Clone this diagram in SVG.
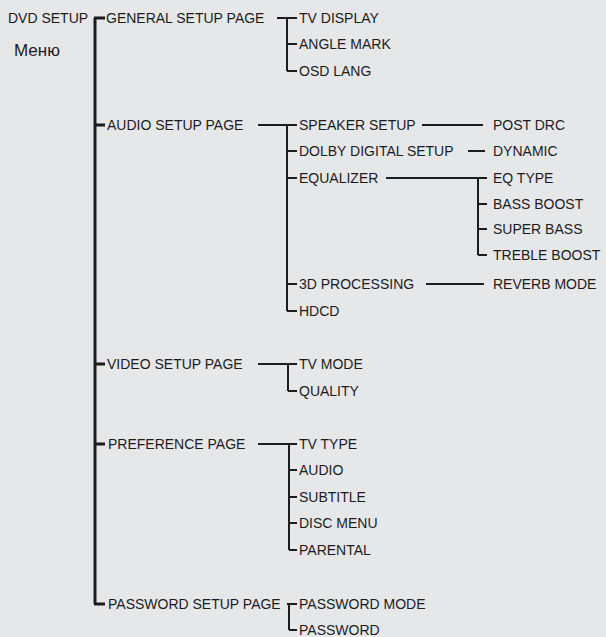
<svg xmlns="http://www.w3.org/2000/svg" width="606" height="637" viewBox="0 0 606 637">
<style>
text{font-family:"Liberation Sans",Arial,sans-serif;font-size:14px;fill:#1c1c1c}
.ru{font-size:17px}
.c{stroke:#1c1c1c;stroke-width:2;fill:none}
.t{stroke:#1c1c1c;stroke-width:3;fill:none}
</style>
<rect width="606" height="637" fill="#e6e7e9"/>
<g id="connectors">
<path class="t" d="M95 18V604M94 18H105M94 125H105M94 364H105M94 444H105M94 604H105"/>
<path class="c" d="M277 18H297M287 18V71M287 44H297M287 71H297"/>
<path class="c" d="M258 125H297M287 125V311M287 151H297M287 178H297M287 284H297M287 311H297"/>
<path class="c" d="M422 125H483M468 151H485M386 178H487M478 178V255M478 204H487M478 229H487M478 255H487M426 284H484"/>
<path class="c" d="M258 364H297M288 364V391M288 391H297"/>
<path class="c" d="M258 444H297M289 444V550M289 470H297M289 497H297M289 523H297M289 550H297"/>
<path class="c" d="M287 604H297M289 604V630M289 630H297"/>
</g>
<g id="n-dvd"><text x="8" y="23">DVD SETUP</text></g>
<g id="n-menu"><text class="ru" x="14" y="56">Меню</text></g>
<g id="n-general"><text x="106" y="23">GENERAL SETUP PAGE</text></g>
<g id="n-tvdisplay"><text x="299" y="23">TV DISPLAY</text></g>
<g id="n-angle"><text x="299" y="49">ANGLE MARK</text></g>
<g id="n-osd"><text x="299" y="76">OSD LANG</text></g>
<g id="n-audio"><text x="107" y="130">AUDIO SETUP PAGE</text></g>
<g id="n-speaker"><text x="299" y="130">SPEAKER SETUP</text></g>
<g id="n-postdrc"><text x="493" y="130">POST DRC</text></g>
<g id="n-dolby"><text x="299" y="156">DOLBY DIGITAL SETUP</text></g>
<g id="n-dynamic"><text x="493" y="156">DYNAMIC</text></g>
<g id="n-eq"><text x="299" y="183">EQUALIZER</text></g>
<g id="n-eqtype"><text x="493" y="183">EQ TYPE</text></g>
<g id="n-bass"><text x="493" y="209">BASS BOOST</text></g>
<g id="n-super"><text x="493" y="234">SUPER BASS</text></g>
<g id="n-treble"><text x="493" y="260">TREBLE BOOST</text></g>
<g id="n-3d"><text x="299" y="289">3D PROCESSING</text></g>
<g id="n-reverb"><text x="493" y="289">REVERB MODE</text></g>
<g id="n-hdcd"><text x="299" y="316">HDCD</text></g>
<g id="n-video"><text x="107" y="369">VIDEO SETUP PAGE</text></g>
<g id="n-tvmode"><text x="299" y="369">TV MODE</text></g>
<g id="n-quality"><text x="299" y="396">QUALITY</text></g>
<g id="n-pref"><text x="108" y="449">PREFERENCE PAGE</text></g>
<g id="n-tvtype"><text x="299" y="449">TV TYPE</text></g>
<g id="n-audio2"><text x="299" y="475">AUDIO</text></g>
<g id="n-subtitle"><text x="299" y="502">SUBTITLE</text></g>
<g id="n-disc"><text x="299" y="528">DISC MENU</text></g>
<g id="n-parental"><text x="299" y="555">PARENTAL</text></g>
<g id="n-pwsetup"><text x="108" y="609">PASSWORD SETUP PAGE</text></g>
<g id="n-pwmode"><text x="299" y="609">PASSWORD MODE</text></g>
<g id="n-pw"><text x="299" y="635">PASSWORD</text></g>
</svg>
